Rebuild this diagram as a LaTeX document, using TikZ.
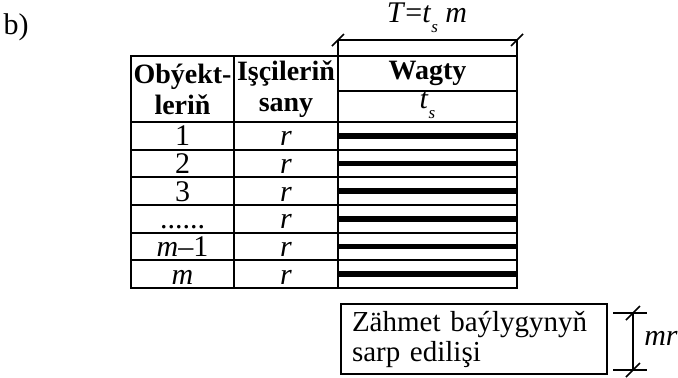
\documentclass[tikz,border=0pt]{standalone}
\usepackage{fontspec}
\setmainfont{Liberation Serif}
\usetikzlibrary{calc}

\newcommand{\lowsub}[1]{\raisebox{-0.32em}{\fontsize{8.5}{8.5}\selectfont\textit{#1}}}

\begin{document}
\begin{tikzpicture}[x=0.5pt,y=-0.5pt,
  rule/.style={line width=1pt},
  bar/.style={line width=2.8pt},
  dim/.style={line width=0.8pt},
  hdr/.style={font=\fontsize{14}{15.5}\selectfont\bfseries,align=center},
  cell/.style={font=\fontsize{15}{16}\selectfont},
  rowtxt/.style={cell,anchor=base}]
  \useasboundingbox (0,0) rectangle (678,377);
  \node[cell] (lbl) at (16,27) {b)};
  % table
  \draw[rule] (131,56) rectangle (517,288);
  \draw[rule] (234,56) -- (234,288);
  \draw[rule] (338,40) -- (338,288);
  \draw[rule] (517,40) -- (517,56);
  \draw[rule] (338,91) -- (517,91);
  \foreach \i in {0,...,5} {
    \pgfmathsetmacro{\yl}{122+27.67*\i}
    \draw[rule] (131,\yl) -- (517,\yl);
  }
  \foreach \i in {1,...,6} {
    \pgfmathsetmacro{\yc}{122+27.67*\i-13.83}
    \draw[bar] (338,\yc) -- (517,\yc);
    \node[rowtxt] (r\i) at (286,\yc+10) {\textit{r}};
  }
  % headers
  \node[hdr] (h1) at (182.5,89) {Obýekt-\\leriň};
  \node[hdr] (h2) at (286,89) {Işçileriň\\sany};
  \node[hdr] (h3) at (427.5,73) {Wagty};
  \node[cell] (h4) at (427.5,105) {\textit{t}\lowsub{s}};
  % objects
  \node[rowtxt] (n1) at (182.5,145.8) {1};
  \node[rowtxt] (n2) at (182.5,173.5) {2};
  \node[rowtxt] (n3) at (182.5,201.2) {3};
  \node[rowtxt] (n4) at (182.5,228.8) {......};
  \node[rowtxt] (n5) at (182.5,256.5) {\textit{m}–1};
  \node[rowtxt] (n6) at (182.5,284.2) {\textit{m}};
  % total time
  \coordinate (T1) at (338,40);
  \coordinate (T2) at (517,40);
  \draw[dim] (T1) -- (T2);
  \foreach \c in {T1,T2} \draw[dim] ($(\c)+(-6,6)$) -- ($(\c)+(6,-6)$);
  \node[cell] (T) at (427,18) {\textit{T}=\textit{t}\lowsub{s} \textit{m}};
  % labour
  \node[draw,rule,font=\fontsize{14.5}{15}\selectfont,align=left,text width=122pt,inner xsep=5.5pt,minimum height=35pt] (box) at (474,339) {Zähmet baýlygynyň\\sarp edilişi};
  \coordinate (M1) at (633,313);
  \coordinate (M2) at (633,370);
  \draw[dim] ($(M1)+(-20,0)$) -- ($(M1)+(14,0)$);
  \draw[dim] ($(M2)+(-20,0)$) -- ($(M2)+(14,0)$);
  \draw[dim] (M1) -- (M2);
  \foreach \c in {M1,M2} \draw[dim] ($(\c)+(-7,7)$) -- ($(\c)+(7,-7)$);
  \node[cell] (mr) at (661,338) {\textit{mr}};
\end{tikzpicture}
\end{document}
